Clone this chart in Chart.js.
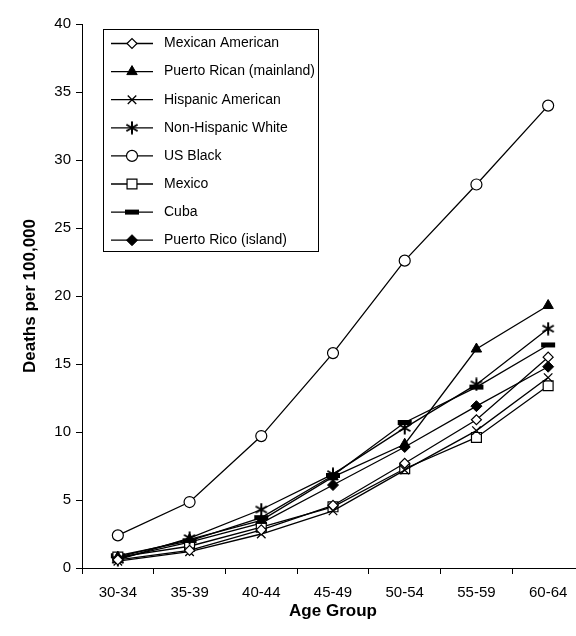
<!DOCTYPE html>
<html>
<head>
<meta charset="utf-8">
<script src="https://cdn.jsdelivr.net/npm/chart.js@4"></script>
<style>
  html, body { margin: 0; padding: 0; background: #fff; overflow: hidden; }
  #wrap { width: 596px; height: 636px; }
</style>
</head>
<body>
<div id="wrap"><canvas id="grafico"></canvas></div>
<script>
// categorias y series
var grupos = ['30-34', '35-39', '40-44', '45-49', '50-54', '55-59', '60-64'];

var mexicanAmerican = [0.6, 1.3, 2.8, 4.6, 7.7, 10.9, 15.5];
var puertoRicanMainland = [0.8, 2.1, 3.5, 6.7, 9.1, 16.1, 19.3];
var hispanicAmerican = [0.5, 1.2, 2.5, 4.2, 7.2, 10.1, 14.0];
var nonHispanicWhite = [0.6, 2.2, 4.3, 6.9, 10.3, 13.5, 17.6];
var usBlack = [2.4, 4.85, 9.7, 15.8, 22.6, 28.2, 34.0];
var mexico = [0.8, 1.6, 3.0, 4.5, 7.3, 9.6, 13.4];
var cuba = [0.9, 2.0, 3.7, 6.8, 10.7, 13.3, 16.4];
var puertoRicoIsland = [0.7, 1.9, 3.3, 6.1, 8.9, 11.9, 14.8];

var ticksY = [0, 5, 10, 15, 20, 25, 30, 35, 40];

var fuente = 'Liberation Sans, Arial, Helvetica, sans-serif';

// asterisco de 6 brazos para Non-Hispanic White
var asterisco = document.createElement('canvas');
asterisco.width = 14;
asterisco.height = 14;
(function () {
    var c = asterisco.getContext('2d');
    c.strokeStyle = '#000';
    c.lineWidth = 2;
    c.beginPath();
    [90, 30, 150].forEach(function (a) {
        var r = a * Math.PI / 180;
        c.moveTo(7 - 6.5 * Math.cos(r), 7 - 6.5 * Math.sin(r));
        c.lineTo(7 + 6.5 * Math.cos(r), 7 + 6.5 * Math.sin(r));
    });
    c.stroke();
})();

function serie(nombre, datos, estilo, relleno, radio, grosor) {
    return {
        label: nombre,
        data: datos,
        borderColor: '#000',
        borderWidth: 1.3,
        pointStyle: estilo,
        pointRadius: radio,
        pointHoverRadius: radio,
        pointBackgroundColor: relleno,
        pointBorderColor: '#000',
        pointBorderWidth: grosor,
        tension: 0,
        fill: false
    };
}

// leyenda dibujada dentro del area del grafico
var leyendaCaja = {
    id: 'leyendaCaja',
    afterDraw: function (chart) {
        var ctx = chart.ctx;
        ctx.save();
        ctx.fillStyle = '#fff';
        ctx.fillRect(103.5, 29.5, 215, 222);
        ctx.strokeStyle = '#000';
        ctx.lineWidth = 1;
        ctx.strokeRect(103.5, 29.5, 215, 222);
        chart.data.datasets.forEach(function (ds, i) {
            var y = 43.5 + i * 28.1;
            ctx.beginPath();
            ctx.moveTo(111, y);
            ctx.lineTo(153, y);
            ctx.strokeStyle = '#000';
            ctx.lineWidth = 1.3;
            ctx.stroke();
            ctx.fillStyle = ds.pointBackgroundColor;
            ctx.strokeStyle = '#000';
            ctx.lineWidth = ds.pointBorderWidth;
            Chart.helpers.drawPoint(ctx, {
                pointStyle: ds.pointStyle,
                radius: ds.pointRadius,
                borderWidth: ds.pointBorderWidth,
                rotation: 0
            }, 132, y);
            ctx.fillStyle = '#000';
            ctx.font = '14px ' + fuente;
            ctx.textBaseline = 'middle';
            ctx.textAlign = 'left';
            ctx.fillText(ds.label, 164, y);
        });
        ctx.restore();
    }
};

var ctx = document.getElementById('grafico').getContext('2d');
var myChart = new Chart(ctx, {
    type: 'line',
    data: {
        labels: grupos,
        datasets: [
            serie('Mexican American', mexicanAmerican, 'rectRot', '#fff', 5, 1.2),
            serie('Puerto Rican (mainland)', puertoRicanMainland, 'triangle', '#000', 6, 1),
            serie('Hispanic American', hispanicAmerican, 'crossRot', '#000', 6, 1.3),
            serie('Non-Hispanic White', nonHispanicWhite, asterisco, '#000', 7, 1.3),
            serie('US Black', usBlack, 'circle', '#fff', 5.5, 1.2),
            serie('Mexico', mexico, 'rect', '#fff', 7, 1.2),
            serie('Cuba', cuba, 'line', '#000', 7, 5),
            serie('Puerto Rico (island)', puertoRicoIsland, 'rectRot', '#000', 5.5, 1)
        ]
    },
    options: {
        responsive: true,
        maintainAspectRatio: false,
        animation: false,
        layout: { padding: { top: 24, left: 0, right: 0, bottom: 0 } },
        plugins: {
            legend: { display: false },
            tooltip: { enabled: false }
        },
        scales: {
            x: {
                offset: true,
                grid: { offset: true, drawOnChartArea: false, drawTicks: true, tickLength: 6, color: '#000' },
                border: { display: true, color: '#000', width: 1 },
                ticks: { color: '#000', font: { family: fuente, size: 15 }, padding: 10, maxRotation: 0 },
                title: {
                    display: true,
                    text: 'Age Group',
                    color: '#000',
                    font: { family: fuente, size: 17, weight: 'bold' },
                    padding: { top: 0, bottom: 14 }
                },
                afterFit: function (scale) { scale.height = 68; }
            },
            y: {
                min: 0,
                max: 40,
                afterBuildTicks: function (scale) {
                    scale.ticks = ticksY.map(function (v) { return { value: v }; });
                },
                grid: { drawOnChartArea: false, drawTicks: true, tickLength: 6, color: '#000' },
                border: { display: true, color: '#000', width: 1 },
                ticks: { color: '#000', font: { family: fuente, size: 15 }, padding: 5 },
                title: {
                    display: true,
                    text: 'Deaths per 100,000',
                    color: '#000',
                    font: { family: fuente, size: 17, weight: 'bold' },
                    padding: { top: 20, bottom: 0 }
                },
                afterFit: function (scale) { scale.width = 82; }
            }
        }
    },
    plugins: [leyendaCaja]
});
</script>
</body>
</html>
